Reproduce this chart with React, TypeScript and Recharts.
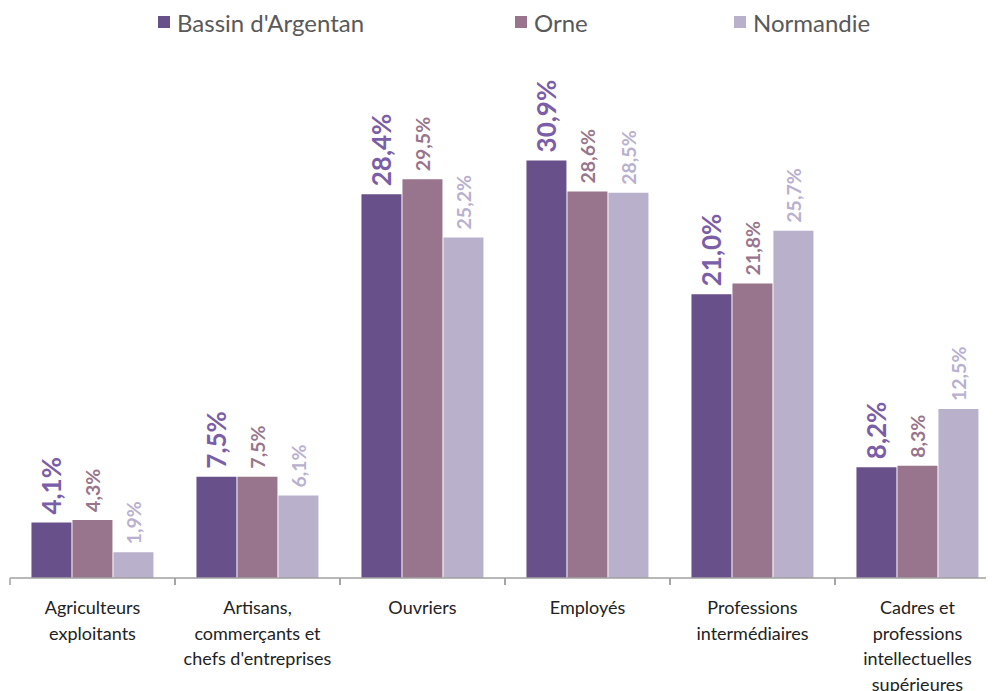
import { BarChart, Bar, XAxis, YAxis, Legend, LabelList } from 'recharts';

const categories = [
  ['Agriculteurs', 'exploitants'],
  ['Artisans,', 'commerçants et', "chefs d'entreprises"],
  ['Ouvriers'],
  ['Employés'],
  ['Professions', 'intermédiaires'],
  ['Cadres et', 'professions', 'intellectuelles', 'supérieures'],
];
const bassin = [4.1, 7.5, 28.4, 30.9, 21.0, 8.2];
const orne = [4.3, 7.5, 29.5, 28.6, 21.8, 8.3];
const normandie = [1.9, 6.1, 25.2, 28.5, 25.7, 12.5];

const data = categories.map((c, i) => ({
  name: c.join(' '),
  lines: c,
  bassin: bassin[i],
  orne: orne[i],
  normandie: normandie[i],
}));

const FONT = 'Lato, "Open Sans", sans-serif';

const series = [
  { key: 'bassin', label: "Bassin d'Argentan", fill: '#68508a', text: '#7b5ea8', size: 26, left: 150 },
  { key: 'orne', label: 'Orne', fill: '#98758c', text: '#98758c', size: 19.5, left: 507 },
  { key: 'normandie', label: 'Normandie', fill: '#b9b0cb', text: '#b9b0cf', size: 19.5, left: 726 },
];

const fmt = (v: number) => v.toFixed(1).replace('.', ',') + '%';

const makeLabel = (color: string, size: number) => (props: any) => {
  const { x, y, width, value } = props;
  const cx = x + width / 2;
  const cy = y - 8;
  return (
    <text
      x={cx}
      y={cy}
      transform={`rotate(-90 ${cx} ${cy})`}
      textAnchor="start"
      dominantBaseline="central"
      fill={color}
      fontSize={size}
      fontWeight={700}
      fontFamily={FONT}
    >
      {fmt(value)}
    </text>
  );
};

const CategoryTick = (props: any) => {
  const { x, y, payload, index } = props;
  const band = props.width && props.visibleTicksCount ? props.width / props.visibleTicksCount : 165;
  const lines: string[] = data[index]?.lines || [payload.value];
  return (
    <g>
      <line x1={x - band / 2} x2={x - band / 2} y1={y} y2={y + 7} stroke="#a0a0a0" strokeWidth={1.5} />
      <line x1={x + band / 2} x2={x + band / 2} y1={y} y2={y + 7} stroke="#a0a0a0" strokeWidth={1.5} />
      {lines.map((l, i) => (
        <text
          key={i}
          x={x}
          y={y + 29 + i * 25.5}
          textAnchor="middle"
          dominantBaseline="central"
          fill="#222"
          fontSize={18}
          fontFamily={FONT}
        >
          {l}
        </text>
      ))}
    </g>
  );
};

const LegendContent = () => (
  <div style={{ position: 'relative', height: 97, fontFamily: FONT }}>
    {series.map((s) => (
      <div
        key={s.key}
        style={{ position: 'absolute', left: s.left - 2, top: 0, height: 28, display: 'flex', alignItems: 'center' }}
      >
        <span style={{ width: 12, height: 12, background: s.fill, display: 'inline-block', marginRight: 7 }} />
        <span style={{ fontSize: 24, color: '#595959', whiteSpace: 'nowrap' }}>{s.label}</span>
      </div>
    ))}
  </div>
);

export default function App() {
  return (
    <div style={{ width: 986, height: 683, overflow: 'hidden' }}>
      <BarChart
        width={992}
        height={683}
        data={data}
        margin={{ top: 0, right: 0, bottom: 0, left: 2 }}
        barCategoryGap="13%"
        barGap={1}
      >
        <Legend verticalAlign="top" align="left" height={97} content={<LegendContent />} />
        <XAxis
          dataKey="name"
          height={113}
          interval={0}
          tickSize={0}
          tickMargin={0}
          axisLine={{ stroke: '#a0a0a0', strokeWidth: 1.5 }}
          tick={<CategoryTick />}
        />
        <YAxis hide domain={[0, 35]} />
        {series.map((s) => (
          <Bar key={s.key} dataKey={s.key} name={s.label} fill={s.fill} isAnimationActive={false}>
            <LabelList dataKey={s.key} content={makeLabel(s.text, s.size)} />
          </Bar>
        ))}
      </BarChart>
    </div>
  );
}
